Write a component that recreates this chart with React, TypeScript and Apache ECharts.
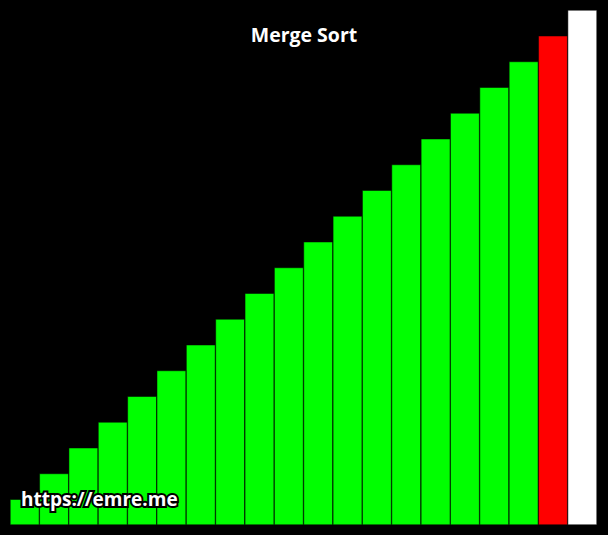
import React, { useEffect, useRef } from "react";
import * as echarts from "echarts";

const categories = ["1","2","3","4","5","6","7","8","9","10","11","12","13","14","15","16","17","18","19","20"];
const values = [1,2,3,4,5,6,7,8,9,10,11,12,13,14,15,16,17,18,19,20];
const barColors = ["#00ff00","#00ff00","#00ff00","#00ff00","#00ff00","#00ff00","#00ff00","#00ff00","#00ff00","#00ff00","#00ff00","#00ff00","#00ff00","#00ff00","#00ff00","#00ff00","#00ff00","#00ff00","#ff0000","#ffffff"];

export default function App() {
  const ref = useRef<HTMLDivElement>(null);
  useEffect(() => {
    document.body.style.margin = "0";
    const chart = echarts.init(ref.current!, null, { renderer: "svg" });
    chart.setOption({
      animation: false,
      backgroundColor: "#000000",
      title: {
        text: "Merge Sort",
        left: "center",
        top: 19,
        textStyle: { color: "#ffffff", fontFamily: "Open Sans", fontWeight: "bold", fontSize: 19.5 },
      },
      grid: { left: 10, right: 11, top: 10, bottom: 10 },
      xAxis: {
        type: "category",
        data: categories,
        show: false,
      },
      yAxis: { type: "value", min: 0, max: 20, show: false, splitLine: { show: false } },
      series: [
        {
          type: "bar",
          barCategoryGap: 0,
          data: values.map((v, i) => ({
            value: v,
            itemStyle: { color: barColors[i], borderColor: "#000000", borderWidth: 0.5 },
          })),
        },
      ],
      graphic: [
        {
          type: "text",
          left: 19,
          top: 487,
          z: 100,
          style: {
            text: "https://emre.me",
            fill: "#ffffff",
            stroke: "#000000",
            lineWidth: 4,
            fontFamily: "Open Sans",
            fontWeight: "bold",
            fontSize: 19,
          },
        },
      ],
    });
    return () => chart.dispose();
  }, []);
  return <div ref={ref} style={{ position: "absolute", left: 0, top: 0, width: 608, height: 535 }} />;
}
